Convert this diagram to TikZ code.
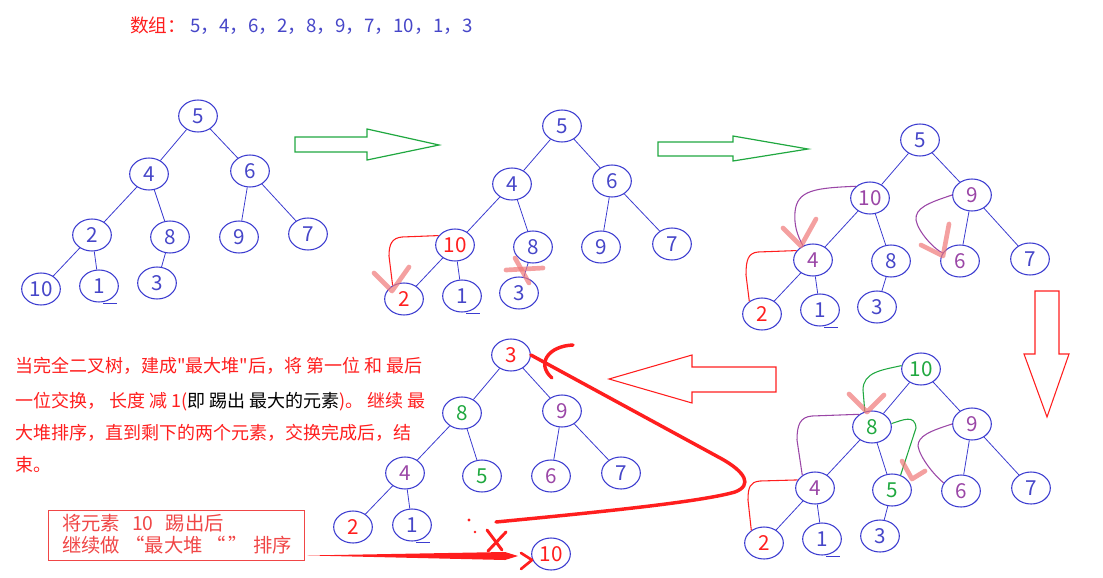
\documentclass[tikz,border=0pt]{standalone}
\usepackage{fontspec}
\defaultfontfeatures[\rmfamily]{}
\setmainfont{Noto Sans CJK SC}
\usetikzlibrary{shapes.geometric,calc}
\definecolor{nblue}{HTML}{3C3CD0}
\definecolor{tblue}{HTML}{4646C8}
\definecolor{hred}{HTML}{FF1E1E}
\definecolor{hpurple}{HTML}{9A46A6}
\definecolor{hgreen}{HTML}{20A840}
\definecolor{hpink}{HTML}{F07878}
\definecolor{boxred}{HTML}{F04646}
\begin{document}
\begin{tikzpicture}[x=0.75pt,y=-0.75pt,
  hn/.style={ellipse,draw=nblue,line width=0.8pt,minimum width=29pt,minimum height=24pt,inner sep=0pt,text=tblue,font=\fontsize{15.5}{17}\selectfont},
  rt/.style={text=hred},
  pt/.style={text=hpurple},
  gt/.style={text=hgreen},
  ed/.style={draw=nblue,line width=0.6pt},
  und/.style={draw=nblue,line width=0.7pt},
  rc/.style={draw=hred,line width=0.8pt},
  pc/.style={draw=hpurple,line width=0.8pt},
  gc/.style={draw=hgreen,line width=0.8pt},
  pk/.style={draw=hpink,opacity=0.7,line width=3.5pt,line cap=round,line join=round},
  garrow/.style={draw=hgreen,line width=0.9pt},
  rarrow/.style={draw=hred,line width=0.8pt},
  thickred/.style={draw=hred,line width=2.6pt,line cap=round,line join=round},
  para/.style={anchor=base west,inner sep=0pt,text=hred,font=\fontsize{13.5}{16}\selectfont},
  boxtext/.style={anchor=base west,inner sep=0pt,text=boxred,font=\fontsize{14.5}{16}\selectfont},
]
\useasboundingbox (0,0) rectangle (1103,578);

% title
\node[anchor=base west,inner sep=0pt,font=\fontsize{14}{16}\selectfont] (title) at (130,32)
  {\textcolor{hred}{数组：}\ \textcolor{tblue}{5，4，6，2，8，9，7，10，1，3}};

% ---------- tree 1 ----------
\node[hn] (a5) at (198,116) {5};
\node[hn] (a4) at (149,174) {4};
\node[hn] (a6) at (250,171) {6};
\node[hn] (a2) at (92,235) {2};
\node[hn] (a8) at (170,237) {8};
\node[hn] (a9) at (239,237) {9};
\node[hn] (a7) at (308,234) {7};
\node[hn] (a10) at (41,289) {10};
\node[hn] (a1) at (99,286) {1};
\node[hn] (a3) at (157,283) {3};
\draw[ed] (a5)--(a4); \draw[ed] (a5)--(a6);
\draw[ed] (a4)--(a2); \draw[ed] (a4)--(a8);
\draw[ed] (a6)--(a9); \draw[ed] (a6)--(a7);
\draw[ed] (a2)--(a10); \draw[ed] (a2)--(a1);
\draw[ed] (a8)--(a3);
\draw[und] ($(a1.center)+(4,17)$) -- ++(14,0);

% green arrow 1
\draw[garrow] (295,137) -- (367,137) -- (367,129) -- (439,145) -- (367,160) -- (367,152) -- (295,152) -- cycle;

% ---------- tree 2 ----------
\node[hn] (b5) at (562,126) {5};
\node[hn] (b4) at (512,184) {4};
\node[hn] (b6) at (612,181) {6};
\node[hn,rt] (b10) at (455,245) {10};
\node[hn] (b8) at (533,247) {8};
\node[hn] (b9) at (601,247) {9};
\node[hn] (b7) at (672,244) {7};
\node[hn,rt] (b2) at (404,299) {2};
\node[hn] (b1) at (462,296) {1};
\node[hn] (b3) at (519,293) {3};
\draw[ed] (b5)--(b4); \draw[ed] (b5)--(b6);
\draw[ed] (b4)--(b10); \draw[ed] (b4)--(b8);
\draw[ed] (b6)--(b9); \draw[ed] (b6)--(b7);
\draw[ed] (b10)--(b2); \draw[ed] (b10)--(b1);
\draw[ed] (b8)--(b3);
\draw[und] ($(b1.center)+(4,17)$) -- ++(14,0);
\draw[rc] (b10.150) -- (402,237) .. controls (392,238) and (389,244) .. (389,256) -- (b2.130);
\draw[pk] (374,273) -- (392,291) -- (409,267);
\draw[pk] (506,270) -- (543,268);
\draw[pk] (515,258) -- (529,283);

% green arrow 2
\draw[garrow] (658,142) -- (733,142) -- (733,136) -- (808,149) -- (733,161) -- (733,156) -- (658,156) -- cycle;

% ---------- tree 3 ----------
\node[hn] (c5) at (920,140) {5};
\node[hn,pt] (c10) at (870,198) {10};
\node[hn,pt] (c9) at (972,195) {9};
\node[hn,pt] (c4) at (813,260) {4};
\node[hn] (c8) at (891,261) {8};
\node[hn,pt] (c6) at (960,261) {6};
\node[hn] (c7) at (1030,259) {7};
\node[hn,rt] (c2) at (762,314) {2};
\node[hn] (c1) at (820,310) {1};
\node[hn] (c3) at (877,307) {3};
\draw[ed] (c5)--(c10); \draw[ed] (c5)--(c9);
\draw[ed] (c10)--(c4); \draw[ed] (c10)--(c8);
\draw[ed] (c9)--(c6); \draw[ed] (c9)--(c7);
\draw[ed] (c4)--(c2); \draw[ed] (c4)--(c1);
\draw[ed] (c8)--(c3);
\draw[und] ($(c1.center)+(4,17)$) -- ++(14,0);
\draw[pc] (c10.140) .. controls (815,188) and (797,190) .. (795,212) .. controls (794,225) and (797,235) .. (c4.125);
\draw[rc] (c4.150) -- (758,252) .. controls (748,253) and (746,260) .. (746,275) -- (c2.135);
\draw[pc] (c9.180) .. controls (928,203) and (915,208) .. (916,220) .. controls (918,232) and (935,250) .. (c6.155);
\draw[pk] (783,228) -- (801,246) -- (816,219);
\draw[pk] (921,245) -- (943,256) -- (949,224);

% red down arrow
\draw[rarrow] (1035,291) -- (1059,291) -- (1059,354) -- (1069,354) -- (1047,417) -- (1024,354) -- (1035,354) -- cycle;

% ---------- tree 4 ----------
\node[hn,gt] (d10) at (921,369) {10};
\node[hn,gt] (d8) at (872,427) {8};
\node[hn,pt] (d9) at (972,424) {9};
\node[hn,pt] (d4) at (815,488) {4};
\node[hn,gt] (d5) at (892,490) {5};
\node[hn,pt] (d6) at (961,491) {6};
\node[hn] (d7) at (1031,488) {7};
\node[hn,rt] (d2) at (764,543) {2};
\node[hn] (d1) at (822,539) {1};
\node[hn] (d3) at (880,536) {3};
\draw[ed] (d10)--(d8); \draw[ed] (d10)--(d9);
\draw[ed] (d8)--(d4); \draw[ed] (d8)--(d5);
\draw[ed] (d9)--(d6); \draw[ed] (d9)--(d7);
\draw[ed] (d4)--(d2); \draw[ed] (d4)--(d1);
\draw[ed] (d5)--(d3);
\draw[und] ($(d1.center)+(4,17)$) -- ++(14,0);
\draw[gc] (d10.170) .. controls (882,370) and (863,372) .. (863,390) -- (d8.115);
\draw[gc] (d8.10) .. controls (903,420) and (915,414) .. (916,428) -- (d5.60);
\draw[pc] (d8.135) -- (812,416) .. controls (800,417) and (797,425) .. (797,440) -- (d4.135);
\draw[rc] (d4.155) -- (760,481) .. controls (750,482) and (748,487) .. (748,500) -- (d2.135);
\draw[pc] (d9.180) .. controls (930,431) and (918,436) .. (918,446) .. controls (920,458) and (935,476) .. (d6.155);
\draw[pk] (849,394) -- (867,412) -- (884,395);
\draw[pk] (902,461) -- (912,479) -- (925,471);

% red left arrow
\draw[rarrow] (776,367) -- (692,367) -- (692,355) -- (609,379) -- (692,403) -- (692,392) -- (776,392) -- cycle;

% ---------- tree 5 ----------
\node[hn,rt] (e3) at (511,355) {3};
\node[hn,gt] (e8) at (462,413) {8};
\node[hn,pt] (e9) at (562,411) {9};
\node[hn,pt] (e4) at (405,473) {4};
\node[hn,gt] (e5) at (482,476) {5};
\node[hn,pt] (e6) at (551,476) {6};
\node[hn] (e7) at (621,473) {7};
\node[hn,rt] (e2) at (353,527) {2};
\node[hn] (e1) at (412,525) {1};
\node[hn,rt] (e10) at (551,554) {10};
\draw[ed] (e3)--(e8); \draw[ed] (e3)--(e9);
\draw[ed] (e8)--(e4); \draw[ed] (e8)--(e5);
\draw[ed] (e9)--(e6); \draw[ed] (e9)--(e7);
\draw[ed] (e4)--(e2); \draw[ed] (e4)--(e1);
\draw[und] ($(e1.center)+(4,17)$) -- ++(14,0);

% big red swoosh
\coordinate (swend) at (496,522);
\draw[thickred] (e3.east) -- (722,459) .. controls (745,472) and (753,485) .. (735,492) .. controls (700,502) and (600,512) .. (swend);
\draw[thickred] (573,345) .. controls (548,346) and (536,364) .. (552,378);

% paragraph
\node[para] (p1) at (15,372) {当完全二叉树，建成"最大堆"后，将 第一位 和 最后};
\node[para] (p2) at (15,407) {一位交换， 长度 减 1(\textcolor{black}{即 踢出 最大的元素})。 继续 最};
\node[para] (p3) at (15,439) {大堆排序，直到剩下的两个元素，交换完成后，结};
\node[para] (p4) at (15,471) {束。};

% box
\node[draw=boxred,line width=0.7pt,minimum width=192pt,minimum height=37.5pt,inner sep=0pt] (box) at (176,535) {};
\node[boxtext] (bt1) at (62,530) {将元素\hspace{9pt}10\hspace{9pt}踢出后};
\node[boxtext] (bt2) at (62,552) {继续做\hspace{4pt}“最大堆\hspace{3pt}“\hspace{2pt}”\hspace{4pt}排序};

% thick arrow from box to 10
\fill[hred] ($(box.south east)+(3,-5)$) -- (505,552) -- (518,556) -- (505,560) -- cycle;
\draw[thickred,line width=2pt] (521,553) -- (532,560) -- (521,569);
\draw[thickred,line width=2.2pt] (487,530) -- (502,550);
\draw[thickred,line width=2.2pt] (506,532) -- (488,551);
\fill[hred] (469,520) circle (1.6);
\fill[hred] (475,532) circle (1.4);
\end{tikzpicture}
\end{document}
